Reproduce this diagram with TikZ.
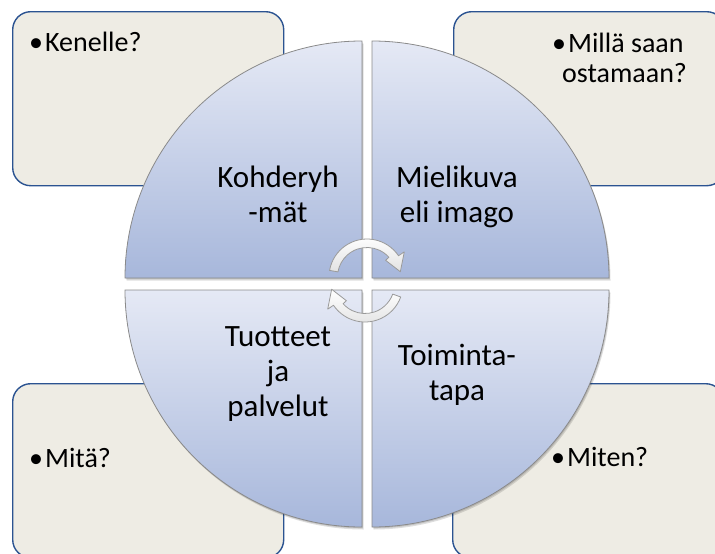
\documentclass[tikz,border=0pt]{standalone}
\usepackage{fontspec}
\setmainfont{Carlito}
\definecolor{boxfill}{HTML}{EEECE4}
\definecolor{boxline}{HTML}{2B5391}
\definecolor{quadtop}{HTML}{E5E9F5}
\definecolor{quadbot}{HTML}{A7B7DB}
\definecolor{quadline}{HTML}{8A8A8A}
\definecolor{arrowbot}{HTML}{E2E2E2}
\definecolor{arrowline}{HTML}{9A9A9A}
\newcommand{\bul}{•\hspace{2pt}}
\begin{document}
\begin{tikzpicture}[x=1pt,y=-1pt,
  qbox/.style={fill=boxfill, draw=boxline, line width=1.4pt, rounded corners=18pt,
    anchor=north west, minimum width=271pt, minimum height=174pt, inner sep=0pt},
  quad/.style={top color=quadtop, bottom color=quadbot, draw=quadline, line width=0.8pt},
  qshadow/.style={fill=black, opacity=0.13},
  cyc/.style={top color=white, bottom color=arrowbot, draw=arrowline, line width=0.8pt, line join=round},
  qtext/.style={font=\fontsize{31}{35}\selectfont, align=center, inner sep=0pt, anchor=base},
  btext/.style={font=\fontsize{28}{30}\selectfont, align=left, inner sep=0pt, anchor=base west}]
\useasboundingbox (0,0) rectangle (715,554);
\clip (0,0) rectangle (715,554);
% side boxes
\node[qbox] (boxTL) at (12,11) {};
\node[qbox] (boxTR) at (453,11) {};
\node[qbox] (boxBL) at (12,383) {};
\node[qbox] (boxBR) at (452,383) {};
% quadrant shadows
\foreach \dx/\dy in {1.5/2.5, 0.8/1.3}{
  \fill[qshadow, shift={(\dx,\dy)}] (362,278) -- (125,278) arc[start angle=180,end angle=270,radius=237] -- cycle;
  \fill[qshadow, shift={(\dx,\dy)}] (372,278) -- (372,41) arc[start angle=270,end angle=360,radius=237] -- cycle;
  \fill[qshadow, shift={(\dx,\dy)}] (372,290) -- (609,290) arc[start angle=0,end angle=90,radius=237] -- cycle;
  \fill[qshadow, shift={(\dx,\dy)}] (362,290) -- (362,527) arc[start angle=90,end angle=180,radius=237] -- cycle;
}
% quadrants
\path[quad] (362,278) -- (125,278) arc[start angle=180,end angle=270,radius=237] -- cycle;
\path[quad] (372,278) -- (372,41) arc[start angle=270,end angle=360,radius=237] -- cycle;
\path[quad] (372,290) -- (609,290) arc[start angle=0,end angle=90,radius=237] -- cycle;
\path[quad] (362,290) -- (362,527) arc[start angle=90,end angle=180,radius=237] -- cycle;
% cycle arrows
\begin{scope}[shift={(367,277)}]
  \path[cyc] (190:38) arc[start angle=190,end angle=326,radius=38] -- (326:45) -- (351:33.75)
    -- (318:25) -- (318:29.5) arc[start angle=318,end angle=190,radius=29.5] -- cycle;
\end{scope}
\begin{scope}[shift={(365,284)}]
  \path[cyc] (20:38) arc[start angle=20,end angle=146,radius=38] -- (146:45) -- (171:33.75)
    -- (138:25) -- (138:29.5) arc[start angle=138,end angle=20,radius=29.5] -- cycle;
\end{scope}
% quadrant texts (anchor = baseline of last line)
\node[qtext] (tKoh) at (278,222) {Kohderyh\\-mät};
\node[qtext] (tMie) at (457,222) {Mielikuva\\eli imago};
\node[qtext] (tTuo) at (278,416) {Tuotteet\\ja\\palvelut};
\node[qtext] (tToi) at (457,400) {Toiminta-\\tapa};
% box texts
\node[btext] (tKen) at (29,51) {\bul Kenelle?};
\node[btext] (tMil) at (552,82) {\bul Millä saan\\\hspace*{10pt}ostamaan?};
\node[btext] (tMit) at (29,467) {\bul Mitä?};
\node[btext] (tMiten) at (551,466) {\bul Miten?};
\end{tikzpicture}
\end{document}
